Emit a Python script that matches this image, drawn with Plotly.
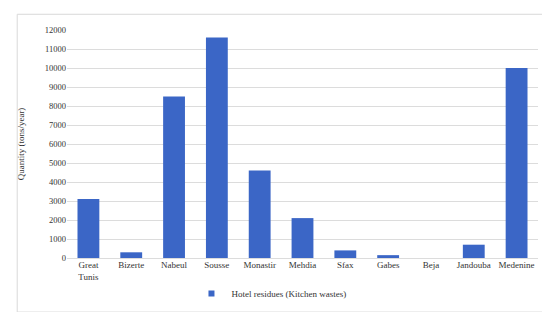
import plotly.graph_objects as go

categories = ["Great<br>Tunis", "Bizerte", "Nabeul", "Sousse", "Monastir", "Mehdia",
              "Sfax", "Gabes", "Beja", "Jandouba", "Medenine"]
values = [3100, 300, 8500, 11600, 4600, 2100, 400, 150, 0, 700, 10000]
series_name = "Hotel residues (Kitchen wastes)"
y_ticks = list(range(0, 12001, 1000))
y_ticktext = [str(v) for v in y_ticks]

font_family = "Liberation Serif, DejaVu Serif, serif"
bar_color = "#3b66c6"

fig = go.Figure()
fig.add_trace(go.Bar(
    x=categories, y=values, name=series_name,
    marker=dict(color=bar_color, line=dict(width=0)),
    width=0.51, showlegend=False,
))
# legend entry with small square symbol
fig.add_trace(go.Scatter(
    x=[None], y=[None], mode="markers", name=series_name,
    marker=dict(symbol="square", size=6, color=bar_color), showlegend=True,
))

W, H = 550, 312
l, r, t, b = 57, 20, 22, 58
pw, ph = W - l - r, H - t - b

def px_x(x):
    return (x - l) / pw

def px_y(y):
    return (H - b - y) / ph

fig.add_shape(type="rect", xref="paper", yref="paper",
              x0=px_x(7), x1=px_x(543), y0=px_y(309), y1=px_y(6),
              line=dict(color="#d9d9d9", width=1), fillcolor="rgba(0,0,0,0)", layer="below")

fig.update_layout(
    width=W, height=H,
    margin=dict(l=l, r=r, t=t, b=b),
    paper_bgcolor="white", plot_bgcolor="white",
    font=dict(family=font_family, size=9, color="#333333"),
    xaxis=dict(showgrid=False, showline=False, ticks="", tickfont=dict(size=9, color="#333333"),
               range=[-0.5, 10.5]),
    yaxis=dict(range=[0, 12000], tickvals=y_ticks, ticktext=y_ticktext, showgrid=True,
               gridcolor="#dcdcdc", gridwidth=1,
               zeroline=True, zerolinecolor="#dcdcdc", zerolinewidth=1, showline=False, ticks="",
               ticksuffix="  ", tickfont=dict(size=8.5, color="#333333"),
               title=dict(text="Quantity (tons/year)", font=dict(size=9, color="#333333"), standoff=18)),
    legend=dict(orientation="h", x=px_x(182), xanchor="left", y=px_y(290), yanchor="middle",
                font=dict(size=9, color="#333333"), itemwidth=30, bgcolor="rgba(0,0,0,0)"),
)

fig.write_html("out.html")
